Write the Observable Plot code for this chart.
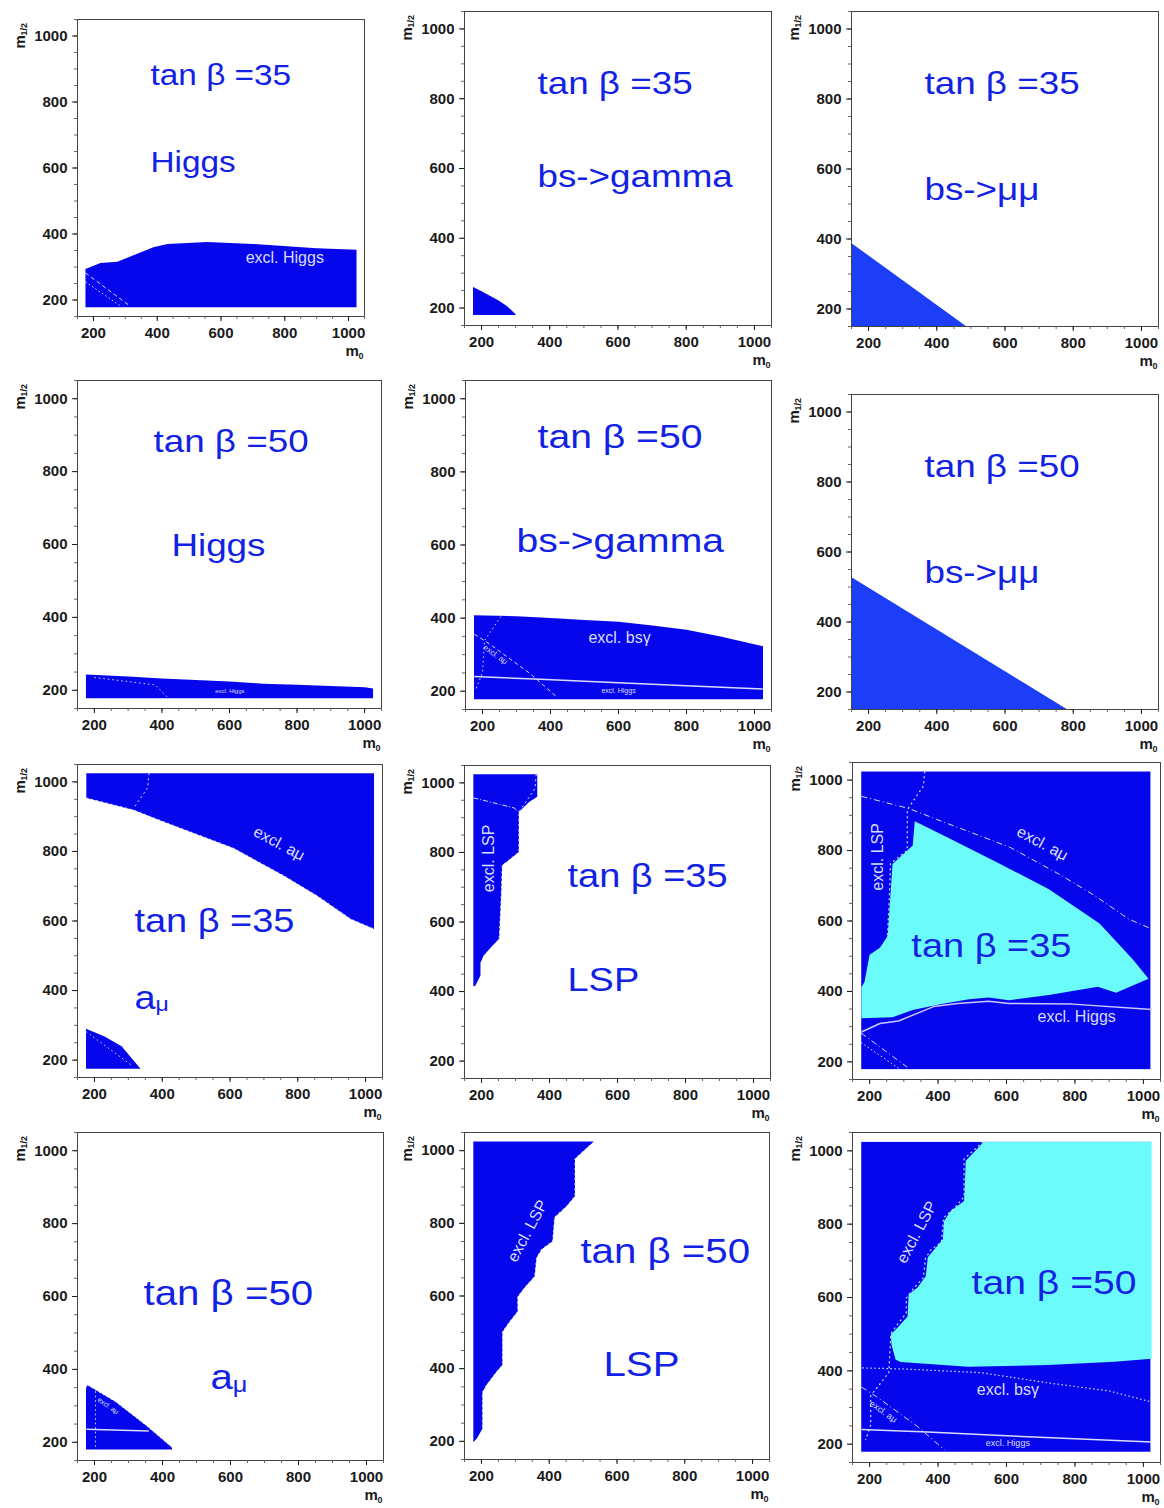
<!DOCTYPE html>
<html><head><meta charset="utf-8">
<script src="https://cdn.jsdelivr.net/npm/d3@7"></script>
<script src="https://cdn.jsdelivr.net/npm/@observablehq/plot@0.6"></script>
<style>
body{margin:0;background:#fff;}
#wrap{position:relative;width:1164px;height:1508px;overflow:hidden;background:#fff;}
#wrap svg{position:absolute;}
</style></head><body><div id="wrap"></div>
<script>
// ---------- axis ticks ----------
const m0Ticks = [200, 400, 600, 800, 1000];
const m12Ticks = [200, 400, 600, 800, 1000];
const minorTicks = [150, 200, 250, 300, 350, 400, 450, 500, 550, 600, 650, 700, 750, 800, 850, 900, 950, 1000, 1050];
const scanM0 = [177, 1022];
const scanM12 = [178, 1023];

// ---------- tan beta = 35 ----------
const higgs35Excl = [[175,178],[175,294],[222,312],[275,316],[388,360],[432,370],[557,376],[700,370],[900,357],[1025,352],[1025,178]];
const amu35LowLine = [[175,282],[310,185]];
const bsg35LowLine = [[175,255],[285,182]];
const bsg35Excl = [[175,180],[175,260],[200,248],[250,222],[275,205],[300,182],[300,180]];
const bsmm35Excl = [[150,150],[150,388],[487,150]];
const amu35Upper = [[176,1025],[1025,1025],[1025,577],[956,606],[858,672],[759,730],[611,809],[511,846],[400,887],[316,919],[176,954]];
const amu35Line = [[176,954],[316,919],[400,887],[511,846],[611,809],[759,730],[858,672],[956,606],[1025,577]];
const amu35Lower = [[175,175],[175,290],[230,268],[280,240],[336,175]];
const lsp35Excl = [[176,1025],[364,1025],[364,960],[340,945],[310,916],[310,801],[261,763],[258,676],[252,552],[232,532],[206,503],[197,483],[197,446],[182,417],[176,415]];
const lsp35Line = [[361,1025],[357,983],[310,916],[310,801],[261,763],[258,676],[252,552]];
const higgs35Line = [[176,285],[230,309],[284,316],[387,357],[457,366],[548,372],[607,366],[793,364],[1025,349]];
const allowed35 = [[176,412],[185,427],[200,504],[230,524],[250,553],[253,561],[267,762],[326,814],[332,883],[428,837],[576,765],[724,690],[872,593],[970,490],[1015,436],[920,396],[867,413],[724,390],[607,375],[548,383],[490,378],[410,364],[326,347],[267,327],[176,324]];

// ---------- tan beta = 50 ----------
const higgs50Excl = [[175,178],[175,243],[300,238],[400,232],[500,228],[600,224],[700,218],[800,215],[900,212],[1000,208],[1025,205],[1025,178]];
const higgs50Line = [[176,240],[370,233],[600,223],[800,215],[1024,206]];
const amu50Line = [[176,356],[221,329],[339,249],[419,184]];
const lsp50LowLine = [[182,208],[200,252],[206,339],[256,407]];
const bsg50Excl = [[175,178],[175,408],[300,405],[400,400],[500,395],[600,390],[700,380],[800,368],[900,350],[1025,323],[1025,178]];
const bsg50Line = [[179,408],[300,405],[526,395],[722,367],[900,345],[1024,315]];
const bsmm50Excl = [[150,150],[150,528],[783,150]];
const amu50Excl = [[175,180],[175,349],[179,357],[262,311],[351,247],[428,186],[428,180]];
const lsp50Excl = [[176,1025],[532,1025],[476,978],[476,875],[452,848],[416,817],[410,751],[378,729],[363,706],[357,654],[327,623],[307,598],[307,557],[283,529],[262,501],[262,410],[244,391],[215,355],[203,335],[203,235],[188,210],[179,200],[176,198]];
const lsp50Line = [[532,1025],[476,978],[476,875],[452,848],[416,817],[410,751],[378,729],[363,706],[357,654],[327,623],[307,598],[307,557],[283,529],[262,501],[256,395],[203,332],[203,252],[188,211]];
const allowed50 = [[534,1025],[481,973],[476,863],[437,836],[417,808],[414,759],[370,710],[364,658],[340,627],[314,608],[311,548],[282,518],[262,499],[264,471],[276,430],[291,424],[487,411],[722,416],[915,425],[1024,433],[1024,1025]];

// ---------- styles ----------
const BLUE = "#0606ec", LIGHTBLUE = "#1c3ef6", CYAN = "#6bfbfb", TEXTBLUE = "#1222e4", PALE = "#d8ddff";
const ML = 72, MT = 24, MR = 12, MB = 52;
const STRETCH = 1.15;

const panels = [
  {frame:[77,19,287,297], fs:29, title:"tan β =35", tpos:[379,879], sub:"Higgs", spos:[379,615],
   fills:[[higgs35Excl,BLUE]],
   lines:[[amu35LowLine,PALE,"4,3",1],[bsg35LowLine,PALE,"1.5,2.5",1]],
   labels:[["excl. Higgs",800,327,16,0]]},
  {frame:[464,11,307,314], fs:32, title:"tan β =35", tpos:[364,844], sub:"bs->gamma", spos:[364,577],
   fills:[[bsg35Excl,BLUE]], lines:[], labels:[]},
  {frame:[851,11,307,315], fs:32, title:"tan β =35", tpos:[364,844], sub:"bs->μμ", spos:[364,540],
   fills:[[bsmm35Excl,LIGHTBLUE]], lines:[], labels:[]},
  {frame:[77,380,304,328], fs:32, title:"tan β =50", tpos:[375,882], sub:"Higgs", spos:[428,597],
   fills:[[higgs50Excl,BLUE]],
   lines:[[[[200,235],[380,215],[415,182]],PALE,"1.5,3",1]],
   labels:[["excl. Higgs",601,198,6,0]]},
  {frame:[465,380,306,329], fs:34, title:"tan β =50", tpos:[362,894], sub:"bs->gamma", spos:[300,610],
   fills:[[bsg50Excl,BLUE]],
   lines:[[higgs50Line,PALE,null,1.5],[lsp50LowLine,PALE,"1.5,3",1],[amu50Line,PALE,"4,3",1]],
   labels:[["excl. bsγ",603,347,16,0],["excl. Higgs",600,200,7,0],["excl. aμ",238,300,8,35]]},
  {frame:[851,394,307,315], fs:32, title:"tan β =50", tpos:[364,844], sub:"bs->μμ", spos:[364,542],
   fills:[[bsmm50Excl,LIGHTBLUE]], lines:[], labels:[]},
  {frame:[77,764,305,313], fs:33, title:"tan β =35", tpos:[318,599], amu:true, spos:[318,378],
   fills:[[amu35Upper,BLUE],[amu35Lower,BLUE]],
   lines:[[amu35Line,PALE,"2,3",1],[[[361,1025],[357,983],[316,925]],PALE,"2,3",1],[amu35LowLine,PALE,"1.5,3",1]],
   labels:[["excl. aμ",745,823,16,28]]},
  {frame:[464,765,306,313], fs:33, title:"tan β =35", tpos:[453,731], sub:"LSP", spos:[453,432],
   fills:[[lsp35Excl,BLUE]],
   lines:[[lsp35Line,PALE,"2,3",1],[[[176,957],[296,928],[310,916]],PALE,"5,2,1,2",1]],
   labels:[["excl. LSP",221,783,16,-90]]},
  {frame:[852,762,308,317], fs:33, title:"tan β =35", tpos:[322,527], bg:true,
   fills:[[allowed35,CYAN]],
   lines:[[higgs35Line,"#c9c9ff",null,1.5],[amu35Line,PALE,"6,3,1,3",1],[lsp35Line,PALE,"2,3",1.2],
          [amu35LowLine,PALE,"6,3,1,3",1],[bsg35LowLine,PALE,"1.5,2.5",1]],
   labels:[["excl. LSP",224,782,16,-90],["excl. aμ",705,820,16,28],["excl. Higgs",805,328,16,0]]},
  {frame:[77,1132,306,328], fs:35, title:"tan β =50", tpos:[344,608], amu:true, spos:[541,377],
   fills:[[amu50Excl,BLUE]],
   lines:[[[[176,236],[360,231]],PALE,null,1.5],[[[203,340],[203,180]],PALE,"1.5,3",1],[[[179,357],[262,311],[351,247],[428,186]],PALE,"1.5,3",1]],
   labels:[["excl. aμ",240,300,7,35]]},
  {frame:[464,1132,305,327], fs:35, title:"tan β =50", tpos:[492,722], sub:"LSP", spos:[560,411],
   fills:[[lsp50Excl,BLUE]],
   lines:[[lsp50Excl.slice(1, 20),PALE,"2,3",1]],
   labels:[["excl. LSP",336,779,16,-62]]},
  {frame:[852,1132,308,330], fs:34, title:"tan β =50", tpos:[498,639], bg:true,
   fills:[[allowed50,CYAN]],
   lines:[[bsg50Line,PALE,"1.5,2.5",1.2],[lsp50Line,PALE,"2,3",1.2],[higgs50Line,PALE,null,1.5],[amu50Line,PALE,"6,3,1,3",1]],
   labels:[["excl. LSP",338,778,16,-62],["excl. bsγ",604,348,16,0],["excl. aμ",240,289,9,35],["excl. Higgs",604,202,9,0]]}
];

const wrap = document.getElementById("wrap");
const X = d => d[0], Y = d => d[1];
const fmt = d => String(d);

for (const p of panels) {
  const [l, t, w, h] = p.frame;
  const marks = [];
  if (p.bg) marks.push(Plot.rect([0], {x1: scanM0[0], x2: scanM0[1], y1: scanM12[0], y2: scanM12[1], fill: BLUE}));
  for (const [pts, color] of p.fills) marks.push(Plot.line(pts, {x: X, y: Y, fill: color, stroke: "none"}));
  for (const [pts, color, dash, sw] of p.lines) {
    const o = {x: X, y: Y, stroke: color, strokeWidth: sw, strokeLinecap: "butt"};
    if (dash) o.strokeDasharray = dash;
    marks.push(Plot.line(pts, o));
  }
  for (const [txt, x, y, fs, rot] of p.labels) {
    marks.push(Plot.text([txt], {x: x, y: y, text: d => d, fontSize: fs, rotate: rot, fill: PALE, fontWeight: "normal", textAnchor: "middle", lineAnchor: "middle"}));
  }
  const titleOpts = {textAnchor: "start", lineAnchor: "middle", fontSize: p.fs, fontWeight: "normal", fill: TEXTBLUE};
  marks.push(Plot.text([p.title], {...titleOpts, x: p.tpos[0], y: p.tpos[1], text: d => d}));
  if (p.sub) marks.push(Plot.text([p.sub], {...titleOpts, x: p.spos[0], y: p.spos[1], text: d => d}));
  if (p.amu) {
    marks.push(Plot.text(["a"], {...titleOpts, x: p.spos[0], y: p.spos[1], text: d => d}));
    marks.push(Plot.text(["μ"], {...titleOpts, fontSize: Math.round(p.fs * 0.62), x: p.spos[0], y: p.spos[1], dx: p.fs * 0.556 * STRETCH, dy: p.fs * 0.2, text: d => d}));
  }
  marks.push(Plot.frame({stroke: "#444", strokeWidth: 1}));
  marks.push(Plot.axisX({ticks: minorTicks, tickSize: 3, tickFormat: () => "", label: null, stroke: "#666"}));
  marks.push(Plot.axisY({ticks: minorTicks, tickSize: 3, tickFormat: () => "", label: null, stroke: "#666"}));
  marks.push(Plot.axisX({ticks: m0Ticks, tickSize: 5, tickPadding: 6, tickFormat: fmt, label: null, fontSize: 15, fontWeight: "bold", fill: "#1a1a1a"}));
  marks.push(Plot.axisY({ticks: m12Ticks, tickSize: 5, tickPadding: 5, tickFormat: fmt, label: null, fontSize: 15, fontWeight: "bold", fill: "#1a1a1a"}));
  // axis titles m_{1/2} and m_0
  marks.push(Plot.text(["m"], {frameAnchor: "top-left", dx: -57, dy: 29, rotate: -90, textAnchor: "start", lineAnchor: "middle", fontSize: 15, fontWeight: "bold", fill: "#1a1a1a", text: d => d}));
  marks.push(Plot.text(["1/2"], {frameAnchor: "top-left", dx: -53, dy: 16, rotate: -90, textAnchor: "start", lineAnchor: "middle", fontSize: 9, fontWeight: "bold", fill: "#1a1a1a", text: d => d}));
  marks.push(Plot.text(["m"], {frameAnchor: "bottom-right", dx: -19, dy: 39, textAnchor: "start", lineAnchor: "bottom", fontSize: 15, fontWeight: "bold", fill: "#1a1a1a", text: d => d}));
  marks.push(Plot.text(["0"], {frameAnchor: "bottom-right", dx: -6, dy: 42, textAnchor: "start", lineAnchor: "bottom", fontSize: 9, fontWeight: "bold", fill: "#1a1a1a", text: d => d}));

  const svg = Plot.plot({
    width: w + ML + MR, height: h + MT + MB,
    marginLeft: ML, marginRight: MR, marginTop: MT, marginBottom: MB,
    x: {domain: [150, 1050]},
    y: {domain: [150, 1050]},
    style: {fontFamily: "'Liberation Sans', Arial, sans-serif", fontSize: "15px", fontWeight: "bold", color: "#1a1a1a", background: "transparent", overflow: "visible"},
    marks
  });
  // widen the big blue panel titles horizontally, as in the reference
  svg.querySelectorAll("text").forEach(el => {
    let node = el, fsz = NaN;
    while (node && node !== svg && isNaN(fsz)) {
      const a = node.getAttribute && node.getAttribute("font-size");
      if (a) fsz = parseFloat(a);
      node = node.parentNode;
    }
    if (fsz >= 18) {
      const x = +el.getAttribute("x") || 0, y = +el.getAttribute("y") || 0;
      const tr = el.getAttribute("transform") || "";
      el.setAttribute("transform", `${tr} translate(${x},${y}) scale(${STRETCH},1) translate(${-x},${-y})`);
    }
  });
  svg.style.left = (l - ML) + "px";
  svg.style.top = (t - MT) + "px";
  wrap.appendChild(svg);
}
</script></body></html>
